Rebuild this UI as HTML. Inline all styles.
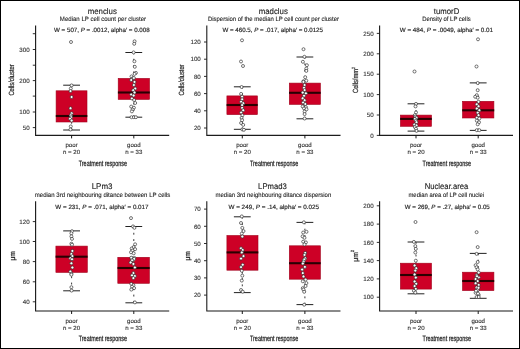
<!DOCTYPE html><html><head><meta charset="utf-8"><style>html,body{margin:0;padding:0;background:#fff;}svg{display:block;will-change:transform;text-rendering:geometricPrecision;}</style></head><body>
<svg width="520" height="349" viewBox="0 0 520 349" font-family='"Liberation Sans", sans-serif'>
<defs><filter id="sf" x="-5%" y="-5%" width="110%" height="110%"><feGaussianBlur stdDeviation="0.28"/></filter></defs>
<rect x="0" y="0" width="520" height="349" fill="#fff"/>
<g filter="url(#sf)">
<text x="102.3" y="13.9" font-size="8.2" text-anchor="middle" textLength="29.2" lengthAdjust="spacingAndGlyphs" fill="#1a1a1a" stroke="#1a1a1a" stroke-width="0.12">menclus</text>
<text x="102.95" y="20.8" font-size="6.3" text-anchor="middle" textLength="86.2" lengthAdjust="spacingAndGlyphs" fill="#222" stroke="#222" stroke-width="0.1">Median LP cell count per cluster</text>
<text x="101.85" y="32.4" font-size="6.2" text-anchor="middle" textLength="95.6" lengthAdjust="spacingAndGlyphs" fill="#222" stroke="#222" stroke-width="0.15">W = 507, <tspan font-style="italic">P</tspan> = .0012, alpha&#8242; = 0.008</text>
<path d="M35.6 25.5V135.4H169.2" fill="none" stroke="#1a1a1a" stroke-width="1.1"/>
<line x1="32.8" y1="33.7" x2="35.6" y2="33.7" stroke="#1a1a1a" stroke-width="0.9"/>
<line x1="32.8" y1="49.5" x2="35.6" y2="49.5" stroke="#1a1a1a" stroke-width="0.9"/>
<text x="29.6" y="51.7" font-size="6.2" text-anchor="end" fill="#333" stroke="#333" stroke-width="0.12">300</text>
<line x1="32.8" y1="65.2" x2="35.6" y2="65.2" stroke="#1a1a1a" stroke-width="0.9"/>
<line x1="32.8" y1="80.6" x2="35.6" y2="80.6" stroke="#1a1a1a" stroke-width="0.9"/>
<text x="29.6" y="82.8" font-size="6.2" text-anchor="end" fill="#333" stroke="#333" stroke-width="0.12">200</text>
<line x1="32.8" y1="96.1" x2="35.6" y2="96.1" stroke="#1a1a1a" stroke-width="0.9"/>
<line x1="32.8" y1="112" x2="35.6" y2="112" stroke="#1a1a1a" stroke-width="0.9"/>
<text x="29.6" y="114.2" font-size="6.2" text-anchor="end" fill="#333" stroke="#333" stroke-width="0.12">100</text>
<line x1="32.8" y1="127.6" x2="35.6" y2="127.6" stroke="#1a1a1a" stroke-width="0.9"/>
<text x="29.6" y="129.8" font-size="6.2" text-anchor="end" fill="#333" stroke="#333" stroke-width="0.12">50</text>
<line x1="71.6" y1="135.4" x2="71.6" y2="138.4" stroke="#1a1a1a" stroke-width="1"/>
<text x="71.6" y="146.9" font-size="6.1" text-anchor="middle" fill="#333" stroke="#333" stroke-width="0.12">poor</text>
<text x="71.6" y="154.3" font-size="6.1" text-anchor="middle" fill="#333" stroke="#333" stroke-width="0.12">n = 20</text>
<line x1="133.8" y1="135.4" x2="133.8" y2="138.4" stroke="#1a1a1a" stroke-width="1"/>
<text x="133.8" y="146.9" font-size="6.1" text-anchor="middle" fill="#333" stroke="#333" stroke-width="0.12">good</text>
<text x="133.8" y="154.3" font-size="6.1" text-anchor="middle" fill="#333" stroke="#333" stroke-width="0.12">n = 33</text>
<text x="102.9" y="165.7" font-size="7.8" text-anchor="middle" textLength="48.4" lengthAdjust="spacingAndGlyphs" fill="#222" stroke="#222" stroke-width="0.25">Treatment response</text>
<text transform="translate(13.8 80) rotate(-90)" x="0" y="0" font-size="7.5" text-anchor="middle" textLength="31.2" lengthAdjust="spacingAndGlyphs" fill="#222" stroke="#222" stroke-width="0.2">Cells/cluster</text>
<line x1="71.6" y1="85.2" x2="71.6" y2="90.5" stroke="#222" stroke-width="0.9" stroke-dasharray="1.9 4.4"/>
<line x1="71.6" y1="130" x2="71.6" y2="122.3" stroke="#222" stroke-width="0.9" stroke-dasharray="1.9 4.4"/>
<line x1="63.2" y1="85.2" x2="80" y2="85.2" stroke="#222" stroke-width="1"/>
<line x1="63.2" y1="130" x2="80" y2="130" stroke="#222" stroke-width="1"/>
<rect x="56.1" y="90.8" width="30.9" height="31.2" fill="#cd0326" stroke="#a0001c" stroke-width="0.6"/>
<rect x="55.8" y="114.95" width="31.5" height="2.1" fill="#2a0306"/>
<line x1="133.8" y1="52.5" x2="133.8" y2="78.1" stroke="#222" stroke-width="0.9" stroke-dasharray="1.9 4.4"/>
<line x1="133.8" y1="117.2" x2="133.8" y2="99.7" stroke="#222" stroke-width="0.9" stroke-dasharray="1.9 4.4"/>
<line x1="125.4" y1="52.5" x2="142.2" y2="52.5" stroke="#222" stroke-width="1"/>
<line x1="125.4" y1="117.2" x2="142.2" y2="117.2" stroke="#222" stroke-width="1"/>
<rect x="118.2" y="78.4" width="31.3" height="21" fill="#cd0326" stroke="#a0001c" stroke-width="0.6"/>
<rect x="117.9" y="91.45" width="31.9" height="2.1" fill="#2a0306"/>
<circle cx="71" cy="42" r="1.5" fill="#fff" stroke="#2a2a2a" stroke-width="0.65"/>
<circle cx="71.6" cy="85.4" r="1.5" fill="#fff" stroke="#2a2a2a" stroke-width="0.65"/>
<circle cx="70.8" cy="88.5" r="1.5" fill="#fff" stroke="#2a2a2a" stroke-width="0.65"/>
<circle cx="70.5" cy="91.1" r="1.5" fill="#fff" stroke="#2a2a2a" stroke-width="0.65"/>
<circle cx="71.6" cy="97" r="1.5" fill="#fff" stroke="#2a2a2a" stroke-width="0.65"/>
<circle cx="70.5" cy="108.2" r="1.5" fill="#fff" stroke="#2a2a2a" stroke-width="0.65"/>
<circle cx="71.6" cy="113.3" r="1.5" fill="#fff" stroke="#2a2a2a" stroke-width="0.65"/>
<circle cx="70.8" cy="115.3" r="1.5" fill="#fff" stroke="#2a2a2a" stroke-width="0.65"/>
<circle cx="71.1" cy="117.2" r="1.5" fill="#fff" stroke="#2a2a2a" stroke-width="0.65"/>
<circle cx="70" cy="118.7" r="1.5" fill="#fff" stroke="#2a2a2a" stroke-width="0.65"/>
<circle cx="71.6" cy="120.6" r="1.5" fill="#fff" stroke="#2a2a2a" stroke-width="0.65"/>
<circle cx="70.8" cy="126.4" r="1.5" fill="#fff" stroke="#2a2a2a" stroke-width="0.65"/>
<circle cx="70.5" cy="129.5" r="1.5" fill="#fff" stroke="#2a2a2a" stroke-width="0.65"/>
<circle cx="134.6" cy="41.3" r="1.5" fill="#fff" stroke="#2a2a2a" stroke-width="0.65"/>
<circle cx="134.2" cy="43.8" r="1.5" fill="#fff" stroke="#2a2a2a" stroke-width="0.65"/>
<circle cx="133.6" cy="52.4" r="1.5" fill="#fff" stroke="#2a2a2a" stroke-width="0.65"/>
<circle cx="134.4" cy="61.3" r="1.5" fill="#fff" stroke="#2a2a2a" stroke-width="0.65"/>
<circle cx="134.8" cy="66.8" r="1.5" fill="#fff" stroke="#2a2a2a" stroke-width="0.65"/>
<circle cx="135.9" cy="72.9" r="1.5" fill="#fff" stroke="#2a2a2a" stroke-width="0.65"/>
<circle cx="134.6" cy="73.9" r="1.5" fill="#fff" stroke="#2a2a2a" stroke-width="0.65"/>
<circle cx="131.5" cy="76.4" r="1.5" fill="#fff" stroke="#2a2a2a" stroke-width="0.65"/>
<circle cx="132.7" cy="78.3" r="1.5" fill="#fff" stroke="#2a2a2a" stroke-width="0.65"/>
<circle cx="133.9" cy="78" r="1.5" fill="#fff" stroke="#2a2a2a" stroke-width="0.65"/>
<circle cx="131.2" cy="80" r="1.5" fill="#fff" stroke="#2a2a2a" stroke-width="0.65"/>
<circle cx="134.5" cy="81.9" r="1.5" fill="#fff" stroke="#2a2a2a" stroke-width="0.65"/>
<circle cx="133.9" cy="85" r="1.5" fill="#fff" stroke="#2a2a2a" stroke-width="0.65"/>
<circle cx="135.2" cy="88.5" r="1.5" fill="#fff" stroke="#2a2a2a" stroke-width="0.65"/>
<circle cx="133.2" cy="90.2" r="1.5" fill="#fff" stroke="#2a2a2a" stroke-width="0.65"/>
<circle cx="134.5" cy="92.5" r="1.5" fill="#fff" stroke="#2a2a2a" stroke-width="0.65"/>
<circle cx="131.2" cy="94.5" r="1.5" fill="#fff" stroke="#2a2a2a" stroke-width="0.65"/>
<circle cx="133.6" cy="95.5" r="1.5" fill="#fff" stroke="#2a2a2a" stroke-width="0.65"/>
<circle cx="131.9" cy="98.4" r="1.5" fill="#fff" stroke="#2a2a2a" stroke-width="0.65"/>
<circle cx="134.1" cy="100" r="1.5" fill="#fff" stroke="#2a2a2a" stroke-width="0.65"/>
<circle cx="135.2" cy="103" r="1.5" fill="#fff" stroke="#2a2a2a" stroke-width="0.65"/>
<circle cx="131.2" cy="106.6" r="1.5" fill="#fff" stroke="#2a2a2a" stroke-width="0.65"/>
<circle cx="133.9" cy="107.7" r="1.5" fill="#fff" stroke="#2a2a2a" stroke-width="0.65"/>
<circle cx="132.6" cy="109.6" r="1.5" fill="#fff" stroke="#2a2a2a" stroke-width="0.65"/>
<circle cx="131.9" cy="111.4" r="1.5" fill="#fff" stroke="#2a2a2a" stroke-width="0.65"/>
<circle cx="131.5" cy="117.2" r="1.5" fill="#fff" stroke="#2a2a2a" stroke-width="0.65"/>
<circle cx="133.9" cy="117.2" r="1.5" fill="#fff" stroke="#2a2a2a" stroke-width="0.65"/>
<circle cx="135.9" cy="117.2" r="1.5" fill="#fff" stroke="#2a2a2a" stroke-width="0.65"/>
<text x="273.3" y="13.9" font-size="8.2" text-anchor="middle" textLength="29.2" lengthAdjust="spacingAndGlyphs" fill="#1a1a1a" stroke="#1a1a1a" stroke-width="0.12">madclus</text>
<text x="273.5" y="20.8" font-size="6.3" text-anchor="middle" textLength="131.1" lengthAdjust="spacingAndGlyphs" fill="#222" stroke="#222" stroke-width="0.1">Dispersion of the median LP cell count per cluster</text>
<text x="272.7" y="32.4" font-size="6.2" text-anchor="middle" textLength="100.5" lengthAdjust="spacingAndGlyphs" fill="#222" stroke="#222" stroke-width="0.15">W = 460.5, <tspan font-style="italic">P</tspan> = .017, alpha&#8242; = 0.0125</text>
<path d="M206.8 25.5V135.4H340.5" fill="none" stroke="#1a1a1a" stroke-width="1.1"/>
<line x1="204" y1="42" x2="206.8" y2="42" stroke="#1a1a1a" stroke-width="0.9"/>
<text x="200.8" y="44.2" font-size="6.2" text-anchor="end" fill="#333" stroke="#333" stroke-width="0.12">120</text>
<line x1="204" y1="59.2" x2="206.8" y2="59.2" stroke="#1a1a1a" stroke-width="0.9"/>
<text x="200.8" y="61.4" font-size="6.2" text-anchor="end" fill="#333" stroke="#333" stroke-width="0.12">100</text>
<line x1="204" y1="76.4" x2="206.8" y2="76.4" stroke="#1a1a1a" stroke-width="0.9"/>
<text x="200.8" y="78.6" font-size="6.2" text-anchor="end" fill="#333" stroke="#333" stroke-width="0.12">80</text>
<line x1="204" y1="93.6" x2="206.8" y2="93.6" stroke="#1a1a1a" stroke-width="0.9"/>
<text x="200.8" y="95.8" font-size="6.2" text-anchor="end" fill="#333" stroke="#333" stroke-width="0.12">60</text>
<line x1="204" y1="110.8" x2="206.8" y2="110.8" stroke="#1a1a1a" stroke-width="0.9"/>
<text x="200.8" y="113" font-size="6.2" text-anchor="end" fill="#333" stroke="#333" stroke-width="0.12">40</text>
<line x1="204" y1="128" x2="206.8" y2="128" stroke="#1a1a1a" stroke-width="0.9"/>
<text x="200.8" y="130.2" font-size="6.2" text-anchor="end" fill="#333" stroke="#333" stroke-width="0.12">20</text>
<line x1="242.3" y1="135.4" x2="242.3" y2="138.4" stroke="#1a1a1a" stroke-width="1"/>
<text x="242.3" y="146.9" font-size="6.1" text-anchor="middle" fill="#333" stroke="#333" stroke-width="0.12">poor</text>
<text x="242.3" y="154.3" font-size="6.1" text-anchor="middle" fill="#333" stroke="#333" stroke-width="0.12">n = 20</text>
<line x1="304.9" y1="135.4" x2="304.9" y2="138.4" stroke="#1a1a1a" stroke-width="1"/>
<text x="304.9" y="146.9" font-size="6.1" text-anchor="middle" fill="#333" stroke="#333" stroke-width="0.12">good</text>
<text x="304.9" y="154.3" font-size="6.1" text-anchor="middle" fill="#333" stroke="#333" stroke-width="0.12">n = 33</text>
<text x="274.15" y="165.7" font-size="7.8" text-anchor="middle" textLength="48.4" lengthAdjust="spacingAndGlyphs" fill="#222" stroke="#222" stroke-width="0.25">Treatment response</text>
<text transform="translate(184.3 80) rotate(-90)" x="0" y="0" font-size="7.5" text-anchor="middle" textLength="31" lengthAdjust="spacingAndGlyphs" fill="#222" stroke="#222" stroke-width="0.2">Cells/cluster</text>
<line x1="242.3" y1="86.8" x2="242.3" y2="95.6" stroke="#222" stroke-width="0.9" stroke-dasharray="1.9 4.4"/>
<line x1="242.3" y1="129.3" x2="242.3" y2="114.9" stroke="#222" stroke-width="0.9" stroke-dasharray="1.9 4.4"/>
<line x1="233.9" y1="86.8" x2="250.7" y2="86.8" stroke="#222" stroke-width="1"/>
<line x1="233.9" y1="129.3" x2="250.7" y2="129.3" stroke="#222" stroke-width="1"/>
<rect x="226.9" y="95.9" width="30.5" height="18.7" fill="#cd0326" stroke="#a0001c" stroke-width="0.6"/>
<rect x="226.6" y="103.95" width="31.1" height="2.1" fill="#2a0306"/>
<line x1="304.9" y1="57" x2="304.9" y2="82.8" stroke="#222" stroke-width="0.9" stroke-dasharray="1.9 4.4"/>
<line x1="304.9" y1="118.8" x2="304.9" y2="104.7" stroke="#222" stroke-width="0.9" stroke-dasharray="1.9 4.4"/>
<line x1="296.5" y1="57" x2="313.3" y2="57" stroke="#222" stroke-width="1"/>
<line x1="296.5" y1="118.8" x2="313.3" y2="118.8" stroke="#222" stroke-width="1"/>
<rect x="289.3" y="83.1" width="31.1" height="21.3" fill="#cd0326" stroke="#a0001c" stroke-width="0.6"/>
<rect x="289" y="91.75" width="31.7" height="2.1" fill="#2a0306"/>
<circle cx="242" cy="40.3" r="1.5" fill="#fff" stroke="#2a2a2a" stroke-width="0.65"/>
<circle cx="241" cy="61.5" r="1.5" fill="#fff" stroke="#2a2a2a" stroke-width="0.65"/>
<circle cx="243" cy="66" r="1.5" fill="#fff" stroke="#2a2a2a" stroke-width="0.65"/>
<circle cx="241.6" cy="87" r="1.5" fill="#fff" stroke="#2a2a2a" stroke-width="0.65"/>
<circle cx="241.1" cy="93.9" r="1.5" fill="#fff" stroke="#2a2a2a" stroke-width="0.65"/>
<circle cx="242.1" cy="96.7" r="1.5" fill="#fff" stroke="#2a2a2a" stroke-width="0.65"/>
<circle cx="242.1" cy="99.3" r="1.5" fill="#fff" stroke="#2a2a2a" stroke-width="0.65"/>
<circle cx="241.1" cy="101.7" r="1.5" fill="#fff" stroke="#2a2a2a" stroke-width="0.65"/>
<circle cx="243.2" cy="103.2" r="1.5" fill="#fff" stroke="#2a2a2a" stroke-width="0.65"/>
<circle cx="242.1" cy="105.1" r="1.5" fill="#fff" stroke="#2a2a2a" stroke-width="0.65"/>
<circle cx="242.1" cy="107.9" r="1.5" fill="#fff" stroke="#2a2a2a" stroke-width="0.65"/>
<circle cx="243.2" cy="110.2" r="1.5" fill="#fff" stroke="#2a2a2a" stroke-width="0.65"/>
<circle cx="241.1" cy="112.5" r="1.5" fill="#fff" stroke="#2a2a2a" stroke-width="0.65"/>
<circle cx="242.4" cy="115.3" r="1.5" fill="#fff" stroke="#2a2a2a" stroke-width="0.65"/>
<circle cx="241.6" cy="117.9" r="1.5" fill="#fff" stroke="#2a2a2a" stroke-width="0.65"/>
<circle cx="242.1" cy="120.2" r="1.5" fill="#fff" stroke="#2a2a2a" stroke-width="0.65"/>
<circle cx="241.1" cy="123" r="1.5" fill="#fff" stroke="#2a2a2a" stroke-width="0.65"/>
<circle cx="243.2" cy="124.9" r="1.5" fill="#fff" stroke="#2a2a2a" stroke-width="0.65"/>
<circle cx="242.4" cy="129.5" r="1.5" fill="#fff" stroke="#2a2a2a" stroke-width="0.65"/>
<circle cx="243.9" cy="129.8" r="1.5" fill="#fff" stroke="#2a2a2a" stroke-width="0.65"/>
<circle cx="303.5" cy="49.2" r="1.5" fill="#fff" stroke="#2a2a2a" stroke-width="0.65"/>
<circle cx="304.4" cy="56.8" r="1.5" fill="#fff" stroke="#2a2a2a" stroke-width="0.65"/>
<circle cx="302.9" cy="61.8" r="1.5" fill="#fff" stroke="#2a2a2a" stroke-width="0.65"/>
<circle cx="306.9" cy="65.2" r="1.5" fill="#fff" stroke="#2a2a2a" stroke-width="0.65"/>
<circle cx="306.3" cy="68.6" r="1.5" fill="#fff" stroke="#2a2a2a" stroke-width="0.65"/>
<circle cx="306.3" cy="70.9" r="1.5" fill="#fff" stroke="#2a2a2a" stroke-width="0.65"/>
<circle cx="305.2" cy="77.2" r="1.5" fill="#fff" stroke="#2a2a2a" stroke-width="0.65"/>
<circle cx="303.5" cy="81.2" r="1.5" fill="#fff" stroke="#2a2a2a" stroke-width="0.65"/>
<circle cx="306.3" cy="80.7" r="1.5" fill="#fff" stroke="#2a2a2a" stroke-width="0.65"/>
<circle cx="303.4" cy="81.9" r="1.5" fill="#fff" stroke="#2a2a2a" stroke-width="0.65"/>
<circle cx="304.6" cy="85" r="1.5" fill="#fff" stroke="#2a2a2a" stroke-width="0.65"/>
<circle cx="304" cy="87.8" r="1.5" fill="#fff" stroke="#2a2a2a" stroke-width="0.65"/>
<circle cx="304.6" cy="90.1" r="1.5" fill="#fff" stroke="#2a2a2a" stroke-width="0.65"/>
<circle cx="302.7" cy="92.6" r="1.5" fill="#fff" stroke="#2a2a2a" stroke-width="0.65"/>
<circle cx="305.9" cy="93.3" r="1.5" fill="#fff" stroke="#2a2a2a" stroke-width="0.65"/>
<circle cx="304" cy="95.8" r="1.5" fill="#fff" stroke="#2a2a2a" stroke-width="0.65"/>
<circle cx="302.7" cy="98.3" r="1.5" fill="#fff" stroke="#2a2a2a" stroke-width="0.65"/>
<circle cx="304.6" cy="100.2" r="1.5" fill="#fff" stroke="#2a2a2a" stroke-width="0.65"/>
<circle cx="303.1" cy="102.5" r="1.5" fill="#fff" stroke="#2a2a2a" stroke-width="0.65"/>
<circle cx="305.3" cy="104" r="1.5" fill="#fff" stroke="#2a2a2a" stroke-width="0.65"/>
<circle cx="302.7" cy="106.5" r="1.5" fill="#fff" stroke="#2a2a2a" stroke-width="0.65"/>
<circle cx="305.9" cy="107.1" r="1.5" fill="#fff" stroke="#2a2a2a" stroke-width="0.65"/>
<circle cx="304" cy="108.4" r="1.5" fill="#fff" stroke="#2a2a2a" stroke-width="0.65"/>
<circle cx="306.5" cy="109.3" r="1.5" fill="#fff" stroke="#2a2a2a" stroke-width="0.65"/>
<circle cx="304.6" cy="111.6" r="1.5" fill="#fff" stroke="#2a2a2a" stroke-width="0.65"/>
<circle cx="304.6" cy="114.1" r="1.5" fill="#fff" stroke="#2a2a2a" stroke-width="0.65"/>
<circle cx="304.6" cy="118.5" r="1.5" fill="#fff" stroke="#2a2a2a" stroke-width="0.65"/>
<text x="446.55" y="13.9" font-size="8.2" text-anchor="middle" textLength="25.5" lengthAdjust="spacingAndGlyphs" fill="#1a1a1a" stroke="#1a1a1a" stroke-width="0.12">tumorD</text>
<text x="446.45" y="20.8" font-size="6.3" text-anchor="middle" textLength="48.4" lengthAdjust="spacingAndGlyphs" fill="#222" stroke="#222" stroke-width="0.1">Density of LP cells</text>
<text x="446.4" y="32.4" font-size="6.2" text-anchor="middle" textLength="93.3" lengthAdjust="spacingAndGlyphs" fill="#222" stroke="#222" stroke-width="0.15">W = 484, <tspan font-style="italic">P</tspan> = .0049, alpha&#8242; = 0.01</text>
<path d="M379.6 25.5V135.4H513" fill="none" stroke="#1a1a1a" stroke-width="1.1"/>
<line x1="376.8" y1="33.4" x2="379.6" y2="33.4" stroke="#1a1a1a" stroke-width="0.9"/>
<text x="373.6" y="35.6" font-size="6.2" text-anchor="end" fill="#333" stroke="#333" stroke-width="0.12">250</text>
<line x1="376.8" y1="53.8" x2="379.6" y2="53.8" stroke="#1a1a1a" stroke-width="0.9"/>
<text x="373.6" y="56" font-size="6.2" text-anchor="end" fill="#333" stroke="#333" stroke-width="0.12">200</text>
<line x1="376.8" y1="74.2" x2="379.6" y2="74.2" stroke="#1a1a1a" stroke-width="0.9"/>
<text x="373.6" y="76.4" font-size="6.2" text-anchor="end" fill="#333" stroke="#333" stroke-width="0.12">150</text>
<line x1="376.8" y1="94.6" x2="379.6" y2="94.6" stroke="#1a1a1a" stroke-width="0.9"/>
<text x="373.6" y="96.8" font-size="6.2" text-anchor="end" fill="#333" stroke="#333" stroke-width="0.12">100</text>
<line x1="376.8" y1="115" x2="379.6" y2="115" stroke="#1a1a1a" stroke-width="0.9"/>
<text x="373.6" y="117.2" font-size="6.2" text-anchor="end" fill="#333" stroke="#333" stroke-width="0.12">50</text>
<line x1="376.8" y1="135.4" x2="379.6" y2="135.4" stroke="#1a1a1a" stroke-width="0.9"/>
<text x="373.6" y="137.6" font-size="6.2" text-anchor="end" fill="#333" stroke="#333" stroke-width="0.12">0</text>
<line x1="416" y1="135.4" x2="416" y2="138.4" stroke="#1a1a1a" stroke-width="1"/>
<text x="416" y="146.9" font-size="6.1" text-anchor="middle" fill="#333" stroke="#333" stroke-width="0.12">poor</text>
<text x="416" y="154.3" font-size="6.1" text-anchor="middle" fill="#333" stroke="#333" stroke-width="0.12">n = 20</text>
<line x1="478.2" y1="135.4" x2="478.2" y2="138.4" stroke="#1a1a1a" stroke-width="1"/>
<text x="478.2" y="146.9" font-size="6.1" text-anchor="middle" fill="#333" stroke="#333" stroke-width="0.12">good</text>
<text x="478.2" y="154.3" font-size="6.1" text-anchor="middle" fill="#333" stroke="#333" stroke-width="0.12">n = 33</text>
<text x="446.8" y="165.7" font-size="7.8" text-anchor="middle" textLength="48.4" lengthAdjust="spacingAndGlyphs" fill="#222" stroke="#222" stroke-width="0.25">Treatment response</text>
<text transform="translate(358.1 80) rotate(-90)" x="0" y="0" font-size="7.5" text-anchor="middle" textLength="26" lengthAdjust="spacingAndGlyphs" fill="#222" stroke="#222" stroke-width="0.2">Cells/mm<tspan font-size="4.6" dy="-3.3">2</tspan></text>
<line x1="416" y1="103.8" x2="416" y2="114.8" stroke="#222" stroke-width="0.9" stroke-dasharray="1.9 4.4"/>
<line x1="416" y1="131.1" x2="416" y2="126.6" stroke="#222" stroke-width="0.9" stroke-dasharray="1.9 4.4"/>
<line x1="407.6" y1="103.8" x2="424.4" y2="103.8" stroke="#222" stroke-width="1"/>
<line x1="407.6" y1="131.1" x2="424.4" y2="131.1" stroke="#222" stroke-width="1"/>
<rect x="400.4" y="115.1" width="31.1" height="11.2" fill="#cd0326" stroke="#a0001c" stroke-width="0.6"/>
<rect x="400.1" y="117.85" width="31.7" height="2.1" fill="#2a0306"/>
<line x1="478.2" y1="82.9" x2="478.2" y2="101" stroke="#222" stroke-width="0.9" stroke-dasharray="1.9 4.4"/>
<line x1="478.2" y1="130.4" x2="478.2" y2="118.3" stroke="#222" stroke-width="0.9" stroke-dasharray="1.9 4.4"/>
<line x1="469.8" y1="82.9" x2="486.6" y2="82.9" stroke="#222" stroke-width="1"/>
<line x1="469.8" y1="130.4" x2="486.6" y2="130.4" stroke="#222" stroke-width="1"/>
<rect x="462.5" y="101.3" width="31.4" height="16.7" fill="#cd0326" stroke="#a0001c" stroke-width="0.6"/>
<rect x="462.2" y="109.25" width="32" height="2.1" fill="#2a0306"/>
<circle cx="414.5" cy="71.5" r="1.5" fill="#fff" stroke="#2a2a2a" stroke-width="0.65"/>
<circle cx="416" cy="103.9" r="1.5" fill="#fff" stroke="#2a2a2a" stroke-width="0.65"/>
<circle cx="415.5" cy="106.4" r="1.5" fill="#fff" stroke="#2a2a2a" stroke-width="0.65"/>
<circle cx="416" cy="112.4" r="1.5" fill="#fff" stroke="#2a2a2a" stroke-width="0.65"/>
<circle cx="414.9" cy="115.1" r="1.5" fill="#fff" stroke="#2a2a2a" stroke-width="0.65"/>
<circle cx="415.5" cy="116.7" r="1.5" fill="#fff" stroke="#2a2a2a" stroke-width="0.65"/>
<circle cx="416.5" cy="117.8" r="1.5" fill="#fff" stroke="#2a2a2a" stroke-width="0.65"/>
<circle cx="414.9" cy="118.9" r="1.5" fill="#fff" stroke="#2a2a2a" stroke-width="0.65"/>
<circle cx="416" cy="120.5" r="1.5" fill="#fff" stroke="#2a2a2a" stroke-width="0.65"/>
<circle cx="416.5" cy="122.2" r="1.5" fill="#fff" stroke="#2a2a2a" stroke-width="0.65"/>
<circle cx="414.4" cy="124.6" r="1.5" fill="#fff" stroke="#2a2a2a" stroke-width="0.65"/>
<circle cx="416.5" cy="125.4" r="1.5" fill="#fff" stroke="#2a2a2a" stroke-width="0.65"/>
<circle cx="414.9" cy="127.1" r="1.5" fill="#fff" stroke="#2a2a2a" stroke-width="0.65"/>
<circle cx="416" cy="128.7" r="1.5" fill="#fff" stroke="#2a2a2a" stroke-width="0.65"/>
<circle cx="416.5" cy="130.9" r="1.5" fill="#fff" stroke="#2a2a2a" stroke-width="0.65"/>
<circle cx="478" cy="39.3" r="1.5" fill="#fff" stroke="#2a2a2a" stroke-width="0.65"/>
<circle cx="476.5" cy="66.5" r="1.5" fill="#fff" stroke="#2a2a2a" stroke-width="0.65"/>
<circle cx="477.7" cy="83" r="1.5" fill="#fff" stroke="#2a2a2a" stroke-width="0.65"/>
<circle cx="477.7" cy="90.2" r="1.5" fill="#fff" stroke="#2a2a2a" stroke-width="0.65"/>
<circle cx="476.8" cy="95.2" r="1.5" fill="#fff" stroke="#2a2a2a" stroke-width="0.65"/>
<circle cx="475.2" cy="96.8" r="1.5" fill="#fff" stroke="#2a2a2a" stroke-width="0.65"/>
<circle cx="477.7" cy="97.7" r="1.5" fill="#fff" stroke="#2a2a2a" stroke-width="0.65"/>
<circle cx="478.5" cy="101.8" r="1.5" fill="#fff" stroke="#2a2a2a" stroke-width="0.65"/>
<circle cx="476.8" cy="104.3" r="1.5" fill="#fff" stroke="#2a2a2a" stroke-width="0.65"/>
<circle cx="478.5" cy="106.3" r="1.5" fill="#fff" stroke="#2a2a2a" stroke-width="0.65"/>
<circle cx="476.8" cy="108.5" r="1.5" fill="#fff" stroke="#2a2a2a" stroke-width="0.65"/>
<circle cx="479.3" cy="110.2" r="1.5" fill="#fff" stroke="#2a2a2a" stroke-width="0.65"/>
<circle cx="477.7" cy="112.7" r="1.5" fill="#fff" stroke="#2a2a2a" stroke-width="0.65"/>
<circle cx="478.5" cy="115.2" r="1.5" fill="#fff" stroke="#2a2a2a" stroke-width="0.65"/>
<circle cx="476.8" cy="117.7" r="1.5" fill="#fff" stroke="#2a2a2a" stroke-width="0.65"/>
<circle cx="479.3" cy="118.5" r="1.5" fill="#fff" stroke="#2a2a2a" stroke-width="0.65"/>
<circle cx="476.8" cy="120.7" r="1.5" fill="#fff" stroke="#2a2a2a" stroke-width="0.65"/>
<circle cx="479" cy="122.3" r="1.5" fill="#fff" stroke="#2a2a2a" stroke-width="0.65"/>
<circle cx="477.7" cy="124.3" r="1.5" fill="#fff" stroke="#2a2a2a" stroke-width="0.65"/>
<circle cx="476.8" cy="130.2" r="1.5" fill="#fff" stroke="#2a2a2a" stroke-width="0.65"/>
<circle cx="479.3" cy="130.2" r="1.5" fill="#fff" stroke="#2a2a2a" stroke-width="0.65"/>
<text x="102.1" y="189.3" font-size="8.2" text-anchor="middle" textLength="20.8" lengthAdjust="spacingAndGlyphs" fill="#1a1a1a" stroke="#1a1a1a" stroke-width="0.12">LPm3</text>
<text x="102.5" y="196.5" font-size="6.3" text-anchor="middle" textLength="135.5" lengthAdjust="spacingAndGlyphs" fill="#222" stroke="#222" stroke-width="0.1">median 3rd neighbouring ditance between LP cells</text>
<text x="101.95" y="208.6" font-size="6.2" text-anchor="middle" textLength="93.2" lengthAdjust="spacingAndGlyphs" fill="#222" stroke="#222" stroke-width="0.15">W = 231, <tspan font-style="italic">P</tspan> = .071, alpha&#8242; = 0.017</text>
<path d="M35.6 201.3V311H169.2" fill="none" stroke="#1a1a1a" stroke-width="1.1"/>
<line x1="32.8" y1="221.6" x2="35.6" y2="221.6" stroke="#1a1a1a" stroke-width="0.9"/>
<text x="29.6" y="223.8" font-size="6.2" text-anchor="end" fill="#333" stroke="#333" stroke-width="0.12">120</text>
<line x1="32.8" y1="241.5" x2="35.6" y2="241.5" stroke="#1a1a1a" stroke-width="0.9"/>
<text x="29.6" y="243.7" font-size="6.2" text-anchor="end" fill="#333" stroke="#333" stroke-width="0.12">100</text>
<line x1="32.8" y1="261.6" x2="35.6" y2="261.6" stroke="#1a1a1a" stroke-width="0.9"/>
<text x="29.6" y="263.8" font-size="6.2" text-anchor="end" fill="#333" stroke="#333" stroke-width="0.12">80</text>
<line x1="32.8" y1="281.8" x2="35.6" y2="281.8" stroke="#1a1a1a" stroke-width="0.9"/>
<text x="29.6" y="284" font-size="6.2" text-anchor="end" fill="#333" stroke="#333" stroke-width="0.12">60</text>
<line x1="32.8" y1="301.8" x2="35.6" y2="301.8" stroke="#1a1a1a" stroke-width="0.9"/>
<text x="29.6" y="304" font-size="6.2" text-anchor="end" fill="#333" stroke="#333" stroke-width="0.12">40</text>
<line x1="71.6" y1="311" x2="71.6" y2="314" stroke="#1a1a1a" stroke-width="1"/>
<text x="71.6" y="322.5" font-size="6.1" text-anchor="middle" fill="#333" stroke="#333" stroke-width="0.12">poor</text>
<text x="71.6" y="329.9" font-size="6.1" text-anchor="middle" fill="#333" stroke="#333" stroke-width="0.12">n = 20</text>
<line x1="133.8" y1="311" x2="133.8" y2="314" stroke="#1a1a1a" stroke-width="1"/>
<text x="133.8" y="322.5" font-size="6.1" text-anchor="middle" fill="#333" stroke="#333" stroke-width="0.12">good</text>
<text x="133.8" y="329.9" font-size="6.1" text-anchor="middle" fill="#333" stroke="#333" stroke-width="0.12">n = 33</text>
<text x="102.9" y="341.3" font-size="7.8" text-anchor="middle" textLength="48.4" lengthAdjust="spacingAndGlyphs" fill="#222" stroke="#222" stroke-width="0.25">Treatment response</text>
<text transform="translate(14.5 255.8) rotate(-90)" x="0" y="0" font-size="7.5" text-anchor="middle" textLength="9.6" lengthAdjust="spacingAndGlyphs" fill="#222" stroke="#222" stroke-width="0.2">μm</text>
<line x1="71.6" y1="230.9" x2="71.6" y2="245.8" stroke="#222" stroke-width="0.9" stroke-dasharray="1.9 4.4"/>
<line x1="71.6" y1="290.8" x2="71.6" y2="272.7" stroke="#222" stroke-width="0.9" stroke-dasharray="1.9 4.4"/>
<line x1="63.2" y1="230.9" x2="80" y2="230.9" stroke="#222" stroke-width="1"/>
<line x1="63.2" y1="290.8" x2="80" y2="290.8" stroke="#222" stroke-width="1"/>
<rect x="55.9" y="246.1" width="31.4" height="26.3" fill="#cd0326" stroke="#a0001c" stroke-width="0.6"/>
<rect x="55.6" y="255.65" width="32" height="2.1" fill="#2a0306"/>
<line x1="133.8" y1="226.5" x2="133.8" y2="257" stroke="#222" stroke-width="0.9" stroke-dasharray="1.9 4.4"/>
<line x1="133.8" y1="302.8" x2="133.8" y2="283.6" stroke="#222" stroke-width="0.9" stroke-dasharray="1.9 4.4"/>
<line x1="125.4" y1="226.5" x2="142.2" y2="226.5" stroke="#222" stroke-width="1"/>
<line x1="125.4" y1="302.8" x2="142.2" y2="302.8" stroke="#222" stroke-width="1"/>
<rect x="117.8" y="257.3" width="31.6" height="26" fill="#cd0326" stroke="#a0001c" stroke-width="0.6"/>
<rect x="117.5" y="266.95" width="32.2" height="2.1" fill="#2a0306"/>
<circle cx="72" cy="231.2" r="1.5" fill="#fff" stroke="#2a2a2a" stroke-width="0.65"/>
<circle cx="71.4" cy="233.3" r="1.5" fill="#fff" stroke="#2a2a2a" stroke-width="0.65"/>
<circle cx="71.4" cy="236.4" r="1.5" fill="#fff" stroke="#2a2a2a" stroke-width="0.65"/>
<circle cx="72" cy="238.9" r="1.5" fill="#fff" stroke="#2a2a2a" stroke-width="0.65"/>
<circle cx="71.4" cy="243.7" r="1.5" fill="#fff" stroke="#2a2a2a" stroke-width="0.65"/>
<circle cx="72" cy="244.7" r="1.5" fill="#fff" stroke="#2a2a2a" stroke-width="0.65"/>
<circle cx="72.4" cy="250.9" r="1.5" fill="#fff" stroke="#2a2a2a" stroke-width="0.65"/>
<circle cx="71.4" cy="254" r="1.5" fill="#fff" stroke="#2a2a2a" stroke-width="0.65"/>
<circle cx="72.4" cy="256.1" r="1.5" fill="#fff" stroke="#2a2a2a" stroke-width="0.65"/>
<circle cx="70.4" cy="258.2" r="1.5" fill="#fff" stroke="#2a2a2a" stroke-width="0.65"/>
<circle cx="72" cy="259.2" r="1.5" fill="#fff" stroke="#2a2a2a" stroke-width="0.65"/>
<circle cx="71.4" cy="263.3" r="1.5" fill="#fff" stroke="#2a2a2a" stroke-width="0.65"/>
<circle cx="72.4" cy="267.5" r="1.5" fill="#fff" stroke="#2a2a2a" stroke-width="0.65"/>
<circle cx="70.4" cy="271.6" r="1.5" fill="#fff" stroke="#2a2a2a" stroke-width="0.65"/>
<circle cx="71.4" cy="273.7" r="1.5" fill="#fff" stroke="#2a2a2a" stroke-width="0.65"/>
<circle cx="71.4" cy="274.7" r="1.5" fill="#fff" stroke="#2a2a2a" stroke-width="0.65"/>
<circle cx="71.4" cy="287.2" r="1.5" fill="#fff" stroke="#2a2a2a" stroke-width="0.65"/>
<circle cx="71.6" cy="290.6" r="1.5" fill="#fff" stroke="#2a2a2a" stroke-width="0.65"/>
<circle cx="131" cy="218.1" r="1.5" fill="#fff" stroke="#2a2a2a" stroke-width="0.65"/>
<circle cx="133" cy="226.4" r="1.5" fill="#fff" stroke="#2a2a2a" stroke-width="0.65"/>
<circle cx="134.4" cy="227.8" r="1.5" fill="#fff" stroke="#2a2a2a" stroke-width="0.65"/>
<circle cx="135.1" cy="244.3" r="1.5" fill="#fff" stroke="#2a2a2a" stroke-width="0.65"/>
<circle cx="133.7" cy="247.1" r="1.5" fill="#fff" stroke="#2a2a2a" stroke-width="0.65"/>
<circle cx="131.7" cy="248.5" r="1.5" fill="#fff" stroke="#2a2a2a" stroke-width="0.65"/>
<circle cx="135.1" cy="249.2" r="1.5" fill="#fff" stroke="#2a2a2a" stroke-width="0.65"/>
<circle cx="132.3" cy="250.6" r="1.5" fill="#fff" stroke="#2a2a2a" stroke-width="0.65"/>
<circle cx="131" cy="252.3" r="1.5" fill="#fff" stroke="#2a2a2a" stroke-width="0.65"/>
<circle cx="133.7" cy="253.3" r="1.5" fill="#fff" stroke="#2a2a2a" stroke-width="0.65"/>
<circle cx="131.7" cy="258.1" r="1.5" fill="#fff" stroke="#2a2a2a" stroke-width="0.65"/>
<circle cx="134.4" cy="257.9" r="1.5" fill="#fff" stroke="#2a2a2a" stroke-width="0.65"/>
<circle cx="133" cy="260.2" r="1.5" fill="#fff" stroke="#2a2a2a" stroke-width="0.65"/>
<circle cx="131.3" cy="257.7" r="1.5" fill="#fff" stroke="#2a2a2a" stroke-width="0.65"/>
<circle cx="134.1" cy="258.9" r="1.5" fill="#fff" stroke="#2a2a2a" stroke-width="0.65"/>
<circle cx="132" cy="260.3" r="1.5" fill="#fff" stroke="#2a2a2a" stroke-width="0.65"/>
<circle cx="130.6" cy="262.4" r="1.5" fill="#fff" stroke="#2a2a2a" stroke-width="0.65"/>
<circle cx="133.4" cy="263.9" r="1.5" fill="#fff" stroke="#2a2a2a" stroke-width="0.65"/>
<circle cx="134.9" cy="267.4" r="1.5" fill="#fff" stroke="#2a2a2a" stroke-width="0.65"/>
<circle cx="133.4" cy="273.1" r="1.5" fill="#fff" stroke="#2a2a2a" stroke-width="0.65"/>
<circle cx="132" cy="275.3" r="1.5" fill="#fff" stroke="#2a2a2a" stroke-width="0.65"/>
<circle cx="134.9" cy="276" r="1.5" fill="#fff" stroke="#2a2a2a" stroke-width="0.65"/>
<circle cx="133.4" cy="278.1" r="1.5" fill="#fff" stroke="#2a2a2a" stroke-width="0.65"/>
<circle cx="131.3" cy="283.9" r="1.5" fill="#fff" stroke="#2a2a2a" stroke-width="0.65"/>
<circle cx="133.4" cy="285.3" r="1.5" fill="#fff" stroke="#2a2a2a" stroke-width="0.65"/>
<circle cx="132" cy="286.7" r="1.5" fill="#fff" stroke="#2a2a2a" stroke-width="0.65"/>
<circle cx="134.1" cy="288.1" r="1.5" fill="#fff" stroke="#2a2a2a" stroke-width="0.65"/>
<circle cx="131.3" cy="289.6" r="1.5" fill="#fff" stroke="#2a2a2a" stroke-width="0.65"/>
<circle cx="134.9" cy="302.4" r="1.5" fill="#fff" stroke="#2a2a2a" stroke-width="0.65"/>
<text x="272.45" y="189.3" font-size="8.2" text-anchor="middle" textLength="28.7" lengthAdjust="spacingAndGlyphs" fill="#1a1a1a" stroke="#1a1a1a" stroke-width="0.12">LPmad3</text>
<text x="273.4" y="196.5" font-size="6.3" text-anchor="middle" textLength="115.7" lengthAdjust="spacingAndGlyphs" fill="#222" stroke="#222" stroke-width="0.1">median 3rd neighbouring ditance dispersion</text>
<text x="273.8" y="208.6" font-size="6.2" text-anchor="middle" textLength="90.7" lengthAdjust="spacingAndGlyphs" fill="#222" stroke="#222" stroke-width="0.15">W = 249, <tspan font-style="italic">P</tspan> = .14, alpha&#8242; = 0.025</text>
<path d="M206.8 201.3V311H340.5" fill="none" stroke="#1a1a1a" stroke-width="1.1"/>
<line x1="204" y1="209.1" x2="206.8" y2="209.1" stroke="#1a1a1a" stroke-width="0.9"/>
<text x="200.8" y="211.3" font-size="6.2" text-anchor="end" fill="#333" stroke="#333" stroke-width="0.12">70</text>
<line x1="204" y1="226.3" x2="206.8" y2="226.3" stroke="#1a1a1a" stroke-width="0.9"/>
<text x="200.8" y="228.5" font-size="6.2" text-anchor="end" fill="#333" stroke="#333" stroke-width="0.12">60</text>
<line x1="204" y1="243.5" x2="206.8" y2="243.5" stroke="#1a1a1a" stroke-width="0.9"/>
<text x="200.8" y="245.7" font-size="6.2" text-anchor="end" fill="#333" stroke="#333" stroke-width="0.12">50</text>
<line x1="204" y1="260.7" x2="206.8" y2="260.7" stroke="#1a1a1a" stroke-width="0.9"/>
<text x="200.8" y="262.9" font-size="6.2" text-anchor="end" fill="#333" stroke="#333" stroke-width="0.12">40</text>
<line x1="204" y1="277.9" x2="206.8" y2="277.9" stroke="#1a1a1a" stroke-width="0.9"/>
<text x="200.8" y="280.1" font-size="6.2" text-anchor="end" fill="#333" stroke="#333" stroke-width="0.12">30</text>
<line x1="204" y1="295.1" x2="206.8" y2="295.1" stroke="#1a1a1a" stroke-width="0.9"/>
<text x="200.8" y="297.3" font-size="6.2" text-anchor="end" fill="#333" stroke="#333" stroke-width="0.12">20</text>
<line x1="242.3" y1="311" x2="242.3" y2="314" stroke="#1a1a1a" stroke-width="1"/>
<text x="242.3" y="322.5" font-size="6.1" text-anchor="middle" fill="#333" stroke="#333" stroke-width="0.12">poor</text>
<text x="242.3" y="329.9" font-size="6.1" text-anchor="middle" fill="#333" stroke="#333" stroke-width="0.12">n = 20</text>
<line x1="304.9" y1="311" x2="304.9" y2="314" stroke="#1a1a1a" stroke-width="1"/>
<text x="304.9" y="322.5" font-size="6.1" text-anchor="middle" fill="#333" stroke="#333" stroke-width="0.12">good</text>
<text x="304.9" y="329.9" font-size="6.1" text-anchor="middle" fill="#333" stroke="#333" stroke-width="0.12">n = 33</text>
<text x="274.15" y="341.3" font-size="7.8" text-anchor="middle" textLength="48.4" lengthAdjust="spacingAndGlyphs" fill="#222" stroke="#222" stroke-width="0.25">Treatment response</text>
<text transform="translate(189.8 255.8) rotate(-90)" x="0" y="0" font-size="7.5" text-anchor="middle" textLength="9.6" lengthAdjust="spacingAndGlyphs" fill="#222" stroke="#222" stroke-width="0.2">μm</text>
<line x1="242.3" y1="216.8" x2="242.3" y2="235.2" stroke="#222" stroke-width="0.9" stroke-dasharray="1.9 4.4"/>
<line x1="242.3" y1="292.6" x2="242.3" y2="270.5" stroke="#222" stroke-width="0.9" stroke-dasharray="1.9 4.4"/>
<line x1="233.9" y1="216.8" x2="250.7" y2="216.8" stroke="#222" stroke-width="1"/>
<line x1="233.9" y1="292.6" x2="250.7" y2="292.6" stroke="#222" stroke-width="1"/>
<rect x="226.9" y="235.5" width="31.1" height="34.7" fill="#cd0326" stroke="#a0001c" stroke-width="0.6"/>
<rect x="226.6" y="251.35" width="31.7" height="2.1" fill="#2a0306"/>
<line x1="304.9" y1="222.4" x2="304.9" y2="245.5" stroke="#222" stroke-width="0.9" stroke-dasharray="1.9 4.4"/>
<line x1="304.9" y1="304.6" x2="304.9" y2="279.5" stroke="#222" stroke-width="0.9" stroke-dasharray="1.9 4.4"/>
<line x1="296.5" y1="222.4" x2="313.3" y2="222.4" stroke="#222" stroke-width="1"/>
<line x1="296.5" y1="304.6" x2="313.3" y2="304.6" stroke="#222" stroke-width="1"/>
<rect x="289.3" y="245.8" width="31.1" height="33.4" fill="#cd0326" stroke="#a0001c" stroke-width="0.6"/>
<rect x="289" y="262.15" width="31.7" height="2.1" fill="#2a0306"/>
<circle cx="241.8" cy="216.4" r="1.5" fill="#fff" stroke="#2a2a2a" stroke-width="0.65"/>
<circle cx="241" cy="223" r="1.5" fill="#fff" stroke="#2a2a2a" stroke-width="0.65"/>
<circle cx="242.3" cy="227.9" r="1.5" fill="#fff" stroke="#2a2a2a" stroke-width="0.65"/>
<circle cx="243.5" cy="231.1" r="1.5" fill="#fff" stroke="#2a2a2a" stroke-width="0.65"/>
<circle cx="241.8" cy="233.6" r="1.5" fill="#fff" stroke="#2a2a2a" stroke-width="0.65"/>
<circle cx="242.3" cy="236.5" r="1.5" fill="#fff" stroke="#2a2a2a" stroke-width="0.65"/>
<circle cx="241" cy="248.3" r="1.5" fill="#fff" stroke="#2a2a2a" stroke-width="0.65"/>
<circle cx="242.7" cy="250" r="1.5" fill="#fff" stroke="#2a2a2a" stroke-width="0.65"/>
<circle cx="241.8" cy="252.4" r="1.5" fill="#fff" stroke="#2a2a2a" stroke-width="0.65"/>
<circle cx="243.5" cy="256.1" r="1.5" fill="#fff" stroke="#2a2a2a" stroke-width="0.65"/>
<circle cx="241" cy="258.6" r="1.5" fill="#fff" stroke="#2a2a2a" stroke-width="0.65"/>
<circle cx="242.7" cy="264.7" r="1.5" fill="#fff" stroke="#2a2a2a" stroke-width="0.65"/>
<circle cx="241" cy="267.1" r="1.5" fill="#fff" stroke="#2a2a2a" stroke-width="0.65"/>
<circle cx="241.8" cy="270.8" r="1.5" fill="#fff" stroke="#2a2a2a" stroke-width="0.65"/>
<circle cx="242.3" cy="275.7" r="1.5" fill="#fff" stroke="#2a2a2a" stroke-width="0.65"/>
<circle cx="241.8" cy="280.6" r="1.5" fill="#fff" stroke="#2a2a2a" stroke-width="0.65"/>
<circle cx="241" cy="290" r="1.5" fill="#fff" stroke="#2a2a2a" stroke-width="0.65"/>
<circle cx="242.7" cy="291.7" r="1.5" fill="#fff" stroke="#2a2a2a" stroke-width="0.65"/>
<circle cx="303.9" cy="222.3" r="1.5" fill="#fff" stroke="#2a2a2a" stroke-width="0.65"/>
<circle cx="303.2" cy="232.5" r="1.5" fill="#fff" stroke="#2a2a2a" stroke-width="0.65"/>
<circle cx="306.5" cy="231.8" r="1.5" fill="#fff" stroke="#2a2a2a" stroke-width="0.65"/>
<circle cx="302.6" cy="236.4" r="1.5" fill="#fff" stroke="#2a2a2a" stroke-width="0.65"/>
<circle cx="304.5" cy="237.8" r="1.5" fill="#fff" stroke="#2a2a2a" stroke-width="0.65"/>
<circle cx="303.2" cy="241.7" r="1.5" fill="#fff" stroke="#2a2a2a" stroke-width="0.65"/>
<circle cx="305.9" cy="242.4" r="1.5" fill="#fff" stroke="#2a2a2a" stroke-width="0.65"/>
<circle cx="304.5" cy="244.4" r="1.5" fill="#fff" stroke="#2a2a2a" stroke-width="0.65"/>
<circle cx="305.2" cy="252.9" r="1.5" fill="#fff" stroke="#2a2a2a" stroke-width="0.65"/>
<circle cx="304.5" cy="254.9" r="1.5" fill="#fff" stroke="#2a2a2a" stroke-width="0.65"/>
<circle cx="305.2" cy="258.2" r="1.5" fill="#fff" stroke="#2a2a2a" stroke-width="0.65"/>
<circle cx="303.9" cy="260.2" r="1.5" fill="#fff" stroke="#2a2a2a" stroke-width="0.65"/>
<circle cx="304.2" cy="259.4" r="1.5" fill="#fff" stroke="#2a2a2a" stroke-width="0.65"/>
<circle cx="303.5" cy="261.6" r="1.5" fill="#fff" stroke="#2a2a2a" stroke-width="0.65"/>
<circle cx="302.8" cy="263.5" r="1.5" fill="#fff" stroke="#2a2a2a" stroke-width="0.65"/>
<circle cx="304.9" cy="266.9" r="1.5" fill="#fff" stroke="#2a2a2a" stroke-width="0.65"/>
<circle cx="302.1" cy="269.5" r="1.5" fill="#fff" stroke="#2a2a2a" stroke-width="0.65"/>
<circle cx="302.8" cy="273.1" r="1.5" fill="#fff" stroke="#2a2a2a" stroke-width="0.65"/>
<circle cx="303.5" cy="276.4" r="1.5" fill="#fff" stroke="#2a2a2a" stroke-width="0.65"/>
<circle cx="305.6" cy="279.6" r="1.5" fill="#fff" stroke="#2a2a2a" stroke-width="0.65"/>
<circle cx="302.8" cy="281.3" r="1.5" fill="#fff" stroke="#2a2a2a" stroke-width="0.65"/>
<circle cx="306.4" cy="283.1" r="1.5" fill="#fff" stroke="#2a2a2a" stroke-width="0.65"/>
<circle cx="305.6" cy="286" r="1.5" fill="#fff" stroke="#2a2a2a" stroke-width="0.65"/>
<circle cx="302.8" cy="288.2" r="1.5" fill="#fff" stroke="#2a2a2a" stroke-width="0.65"/>
<circle cx="303.5" cy="289.6" r="1.5" fill="#fff" stroke="#2a2a2a" stroke-width="0.65"/>
<circle cx="304.2" cy="291.8" r="1.5" fill="#fff" stroke="#2a2a2a" stroke-width="0.65"/>
<circle cx="304.2" cy="304.7" r="1.5" fill="#fff" stroke="#2a2a2a" stroke-width="0.65"/>
<text x="446.5" y="189.3" font-size="8.2" text-anchor="middle" textLength="43.6" lengthAdjust="spacingAndGlyphs" fill="#1a1a1a" stroke="#1a1a1a" stroke-width="0.12">Nuclear.area</text>
<text x="446.3" y="196.5" font-size="6.3" text-anchor="middle" textLength="75.7" lengthAdjust="spacingAndGlyphs" fill="#222" stroke="#222" stroke-width="0.1">median area of LP cell nuclei</text>
<text x="447.3" y="208.6" font-size="6.2" text-anchor="middle" textLength="85" lengthAdjust="spacingAndGlyphs" fill="#222" stroke="#222" stroke-width="0.15">W = 269, <tspan font-style="italic">P</tspan> = .27, alpha&#8242; = 0.05</text>
<path d="M379.6 201.3V311H513" fill="none" stroke="#1a1a1a" stroke-width="1.1"/>
<line x1="376.8" y1="205.8" x2="379.6" y2="205.8" stroke="#1a1a1a" stroke-width="0.9"/>
<text x="373.6" y="208" font-size="6.2" text-anchor="end" fill="#333" stroke="#333" stroke-width="0.12">200</text>
<line x1="376.8" y1="224.1" x2="379.6" y2="224.1" stroke="#1a1a1a" stroke-width="0.9"/>
<text x="373.6" y="226.3" font-size="6.2" text-anchor="end" fill="#333" stroke="#333" stroke-width="0.12">180</text>
<line x1="376.8" y1="242.4" x2="379.6" y2="242.4" stroke="#1a1a1a" stroke-width="0.9"/>
<text x="373.6" y="244.6" font-size="6.2" text-anchor="end" fill="#333" stroke="#333" stroke-width="0.12">160</text>
<line x1="376.8" y1="260.6" x2="379.6" y2="260.6" stroke="#1a1a1a" stroke-width="0.9"/>
<text x="373.6" y="262.8" font-size="6.2" text-anchor="end" fill="#333" stroke="#333" stroke-width="0.12">140</text>
<line x1="376.8" y1="278.9" x2="379.6" y2="278.9" stroke="#1a1a1a" stroke-width="0.9"/>
<text x="373.6" y="281.1" font-size="6.2" text-anchor="end" fill="#333" stroke="#333" stroke-width="0.12">120</text>
<line x1="376.8" y1="297.2" x2="379.6" y2="297.2" stroke="#1a1a1a" stroke-width="0.9"/>
<text x="373.6" y="299.4" font-size="6.2" text-anchor="end" fill="#333" stroke="#333" stroke-width="0.12">100</text>
<line x1="416" y1="311" x2="416" y2="314" stroke="#1a1a1a" stroke-width="1"/>
<text x="416" y="322.5" font-size="6.1" text-anchor="middle" fill="#333" stroke="#333" stroke-width="0.12">poor</text>
<text x="416" y="329.9" font-size="6.1" text-anchor="middle" fill="#333" stroke="#333" stroke-width="0.12">n = 20</text>
<line x1="478.2" y1="311" x2="478.2" y2="314" stroke="#1a1a1a" stroke-width="1"/>
<text x="478.2" y="322.5" font-size="6.1" text-anchor="middle" fill="#333" stroke="#333" stroke-width="0.12">good</text>
<text x="478.2" y="329.9" font-size="6.1" text-anchor="middle" fill="#333" stroke="#333" stroke-width="0.12">n = 33</text>
<text x="446.8" y="341.3" font-size="7.8" text-anchor="middle" textLength="48.4" lengthAdjust="spacingAndGlyphs" fill="#222" stroke="#222" stroke-width="0.25">Treatment response</text>
<text transform="translate(357.6 255.8) rotate(-90)" x="0" y="0" font-size="7.5" text-anchor="middle" textLength="12" lengthAdjust="spacingAndGlyphs" fill="#222" stroke="#222" stroke-width="0.2">μm<tspan font-size="4.6" dy="-3.3">2</tspan></text>
<line x1="416" y1="242" x2="416" y2="262.9" stroke="#222" stroke-width="0.9" stroke-dasharray="1.9 4.4"/>
<line x1="416" y1="293.8" x2="416" y2="289.4" stroke="#222" stroke-width="0.9" stroke-dasharray="1.9 4.4"/>
<line x1="407.6" y1="242" x2="424.4" y2="242" stroke="#222" stroke-width="1"/>
<line x1="407.6" y1="293.8" x2="424.4" y2="293.8" stroke="#222" stroke-width="1"/>
<rect x="400.4" y="263.2" width="31.1" height="25.9" fill="#cd0326" stroke="#a0001c" stroke-width="0.6"/>
<rect x="400.1" y="273.95" width="31.7" height="2.1" fill="#2a0306"/>
<line x1="478.2" y1="253.4" x2="478.2" y2="271.9" stroke="#222" stroke-width="0.9" stroke-dasharray="1.9 4.4"/>
<line x1="478.2" y1="298.3" x2="478.2" y2="290.9" stroke="#222" stroke-width="0.9" stroke-dasharray="1.9 4.4"/>
<line x1="469.8" y1="253.4" x2="486.6" y2="253.4" stroke="#222" stroke-width="1"/>
<line x1="469.8" y1="298.3" x2="486.6" y2="298.3" stroke="#222" stroke-width="1"/>
<rect x="462.5" y="272.2" width="31.4" height="18.4" fill="#cd0326" stroke="#a0001c" stroke-width="0.6"/>
<rect x="462.2" y="279.95" width="32" height="2.1" fill="#2a0306"/>
<circle cx="415.5" cy="222" r="1.5" fill="#fff" stroke="#2a2a2a" stroke-width="0.65"/>
<circle cx="413.9" cy="241.9" r="1.5" fill="#fff" stroke="#2a2a2a" stroke-width="0.65"/>
<circle cx="415.3" cy="246.1" r="1.5" fill="#fff" stroke="#2a2a2a" stroke-width="0.65"/>
<circle cx="415.8" cy="248.9" r="1.5" fill="#fff" stroke="#2a2a2a" stroke-width="0.65"/>
<circle cx="415.3" cy="252.5" r="1.5" fill="#fff" stroke="#2a2a2a" stroke-width="0.65"/>
<circle cx="415.8" cy="260.7" r="1.5" fill="#fff" stroke="#2a2a2a" stroke-width="0.65"/>
<circle cx="414.6" cy="265.4" r="1.5" fill="#fff" stroke="#2a2a2a" stroke-width="0.65"/>
<circle cx="416.2" cy="268.2" r="1.5" fill="#fff" stroke="#2a2a2a" stroke-width="0.65"/>
<circle cx="415.3" cy="270.6" r="1.5" fill="#fff" stroke="#2a2a2a" stroke-width="0.65"/>
<circle cx="414.6" cy="274.4" r="1.5" fill="#fff" stroke="#2a2a2a" stroke-width="0.65"/>
<circle cx="415.8" cy="277.6" r="1.5" fill="#fff" stroke="#2a2a2a" stroke-width="0.65"/>
<circle cx="414.6" cy="281.4" r="1.5" fill="#fff" stroke="#2a2a2a" stroke-width="0.65"/>
<circle cx="416.2" cy="283.8" r="1.5" fill="#fff" stroke="#2a2a2a" stroke-width="0.65"/>
<circle cx="414.6" cy="286.1" r="1.5" fill="#fff" stroke="#2a2a2a" stroke-width="0.65"/>
<circle cx="415.8" cy="288.9" r="1.5" fill="#fff" stroke="#2a2a2a" stroke-width="0.65"/>
<circle cx="413.9" cy="290.8" r="1.5" fill="#fff" stroke="#2a2a2a" stroke-width="0.65"/>
<circle cx="415.3" cy="292.5" r="1.5" fill="#fff" stroke="#2a2a2a" stroke-width="0.65"/>
<circle cx="476.6" cy="232.2" r="1.5" fill="#fff" stroke="#2a2a2a" stroke-width="0.65"/>
<circle cx="477.7" cy="247.1" r="1.5" fill="#fff" stroke="#2a2a2a" stroke-width="0.65"/>
<circle cx="476.6" cy="253.9" r="1.5" fill="#fff" stroke="#2a2a2a" stroke-width="0.65"/>
<circle cx="477.7" cy="262" r="1.5" fill="#fff" stroke="#2a2a2a" stroke-width="0.65"/>
<circle cx="475.6" cy="265.2" r="1.5" fill="#fff" stroke="#2a2a2a" stroke-width="0.65"/>
<circle cx="476.6" cy="267.3" r="1.5" fill="#fff" stroke="#2a2a2a" stroke-width="0.65"/>
<circle cx="477.7" cy="269.4" r="1.5" fill="#fff" stroke="#2a2a2a" stroke-width="0.65"/>
<circle cx="478.7" cy="272.6" r="1.5" fill="#fff" stroke="#2a2a2a" stroke-width="0.65"/>
<circle cx="476.6" cy="275.1" r="1.5" fill="#fff" stroke="#2a2a2a" stroke-width="0.65"/>
<circle cx="478.7" cy="277.3" r="1.5" fill="#fff" stroke="#2a2a2a" stroke-width="0.65"/>
<circle cx="475.6" cy="279" r="1.5" fill="#fff" stroke="#2a2a2a" stroke-width="0.65"/>
<circle cx="477.7" cy="281.1" r="1.5" fill="#fff" stroke="#2a2a2a" stroke-width="0.65"/>
<circle cx="475.6" cy="283.2" r="1.5" fill="#fff" stroke="#2a2a2a" stroke-width="0.65"/>
<circle cx="478.7" cy="284.9" r="1.5" fill="#fff" stroke="#2a2a2a" stroke-width="0.65"/>
<circle cx="476.6" cy="287.4" r="1.5" fill="#fff" stroke="#2a2a2a" stroke-width="0.65"/>
<circle cx="477.7" cy="290" r="1.5" fill="#fff" stroke="#2a2a2a" stroke-width="0.65"/>
<circle cx="475.6" cy="292.8" r="1.5" fill="#fff" stroke="#2a2a2a" stroke-width="0.65"/>
<circle cx="478.7" cy="294.9" r="1.5" fill="#fff" stroke="#2a2a2a" stroke-width="0.65"/>
<circle cx="476.6" cy="297" r="1.5" fill="#fff" stroke="#2a2a2a" stroke-width="0.65"/>
<circle cx="478.7" cy="297" r="1.5" fill="#fff" stroke="#2a2a2a" stroke-width="0.65"/>
<circle cx="477" cy="276.2" r="1.5" fill="#fff" stroke="#2a2a2a" stroke-width="0.65"/>
<circle cx="478.5" cy="287.8" r="1.5" fill="#fff" stroke="#2a2a2a" stroke-width="0.65"/>
<circle cx="476" cy="290.8" r="1.5" fill="#fff" stroke="#2a2a2a" stroke-width="0.65"/>
<circle cx="478" cy="293.6" r="1.5" fill="#fff" stroke="#2a2a2a" stroke-width="0.65"/>
</g>
<rect x="0.5" y="0.5" width="519" height="348" fill="none" stroke="#000" stroke-width="1"/>
</svg></body></html>
